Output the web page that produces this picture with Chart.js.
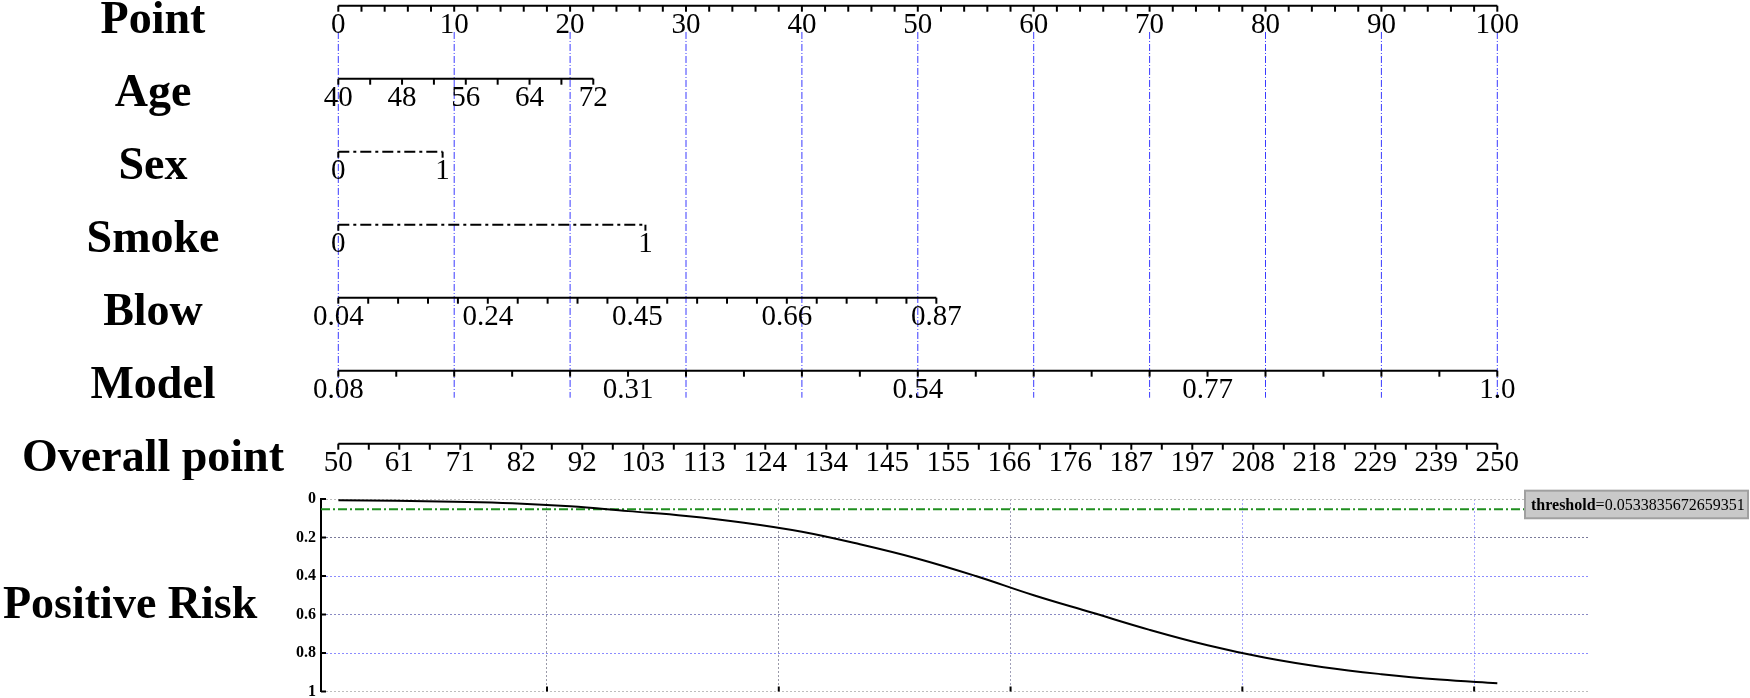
<!DOCTYPE html>
<html>
<head>
<meta charset="utf-8">
<script src="https://cdn.jsdelivr.net/npm/chart.js@4.4.1/dist/chart.umd.min.js"></script>
<style>
body { margin: 0; background: #fff; }
#wrap { position: relative; width: 1750px; height: 698px; }
#nomo { position: absolute; left: 0; top: 0; }
#risk { position: absolute; left: 0; top: 480px; }
</style>
</head>
<body>
<div id="wrap">
<canvas id="nomo" width="1750" height="480"></canvas>
<canvas id="risk" width="1750" height="218"></canvas>
</div>
<script>
// rows of the nomogram, top to bottom
var rowNames = ["Point", "Age", "Sex", "Smoke", "Blow", "Model", "Overall point"];

// where each variable scale starts / ends, in points
var pointSpan = [0, 100];
var ageSpan = [0, 22];
var sexSpan = [0, 9];
var smokeSpan = [0, 26.5];
var blowSpan = [0, 51.6];
var modelSpan = [0, 100];
var overallSpan = [0, 100];

// tick labels
var pointLabels = ["0", "10", "20", "30", "40", "50", "60", "70", "80", "90", "100"];
var ageLabels = ["40", "48", "56", "64", "72"];
var sexLabels = ["0", "1"];
var smokeLabels = ["0", "1"];
var blowLabels = ["0.04", "0.24", "0.45", "0.66", "0.87"];
var modelLabels = ["0.08", "0.31", "0.54", "0.77", "1.0"];
var overallLabels = ["50", "61", "71", "82", "92", "103", "113", "124", "134", "145",
    "155", "166", "176", "187", "197", "208", "218", "229", "239", "250"];

// tick intervals between two labels
var pointSub = 5, ageSub = 2, sexSub = 1, smokeSub = 1, blowSub = 5, modelSub = 5, overallSub = 2;

// blue guide lines (point values)
var guideValues = [0, 10, 20, 30, 40, 50, 60, 70, 80, 90, 100];

// risk curve: overall point -> positive risk
var riskPoints = [50, 60, 70, 80, 90, 100, 110, 120, 130, 140, 150, 160, 170, 180, 190, 200, 210, 220, 230, 240, 250];
var riskValues = [0.006, 0.009, 0.014, 0.022, 0.038, 0.063, 0.088, 0.123, 0.17, 0.235, 0.31, 0.40, 0.50, 0.59, 0.68, 0.76, 0.825, 0.874, 0.91, 0.938, 0.957];
var riskGrid = [86, 126, 166, 206, 246];
var riskTicks = [0, 0.2, 0.4, 0.6, 0.8, 1];
var riskTickLabels = ["0", "0.2", "0.4", "0.6", "0.8", "1"];
var threshold = 0.0533835672659351;
var riskMin = 47.0, riskMax = 265.65;

var rows = [
    { span: pointSpan, labels: pointLabels, sub: pointSub, dashed: false },
    { span: ageSpan, labels: ageLabels, sub: ageSub, dashed: false },
    { span: sexSpan, labels: sexLabels, sub: sexSub, dashed: true },
    { span: smokeSpan, labels: smokeLabels, sub: smokeSub, dashed: true },
    { span: blowSpan, labels: blowLabels, sub: blowSub, dashed: false },
    { span: modelSpan, labels: modelLabels, sub: modelSub, dashed: false },
    { span: overallSpan, labels: overallLabels, sub: overallSub, dashed: false }
];

var SERIF = "'Liberation Serif', 'Times New Roman', serif";

var datasets = [];
rows.forEach(function (r, i) {
    datasets.push({
        data: [{ x: r.span[0], y: i }, { x: r.span[1], y: i }],
        borderColor: "#000",
        borderWidth: 2,
        borderDash: r.dashed ? [11, 4, 3, 4] : [],
        pointRadius: 0,
        clip: false,
        order: 1
    });
});
guideValues.forEach(function (v) {
    datasets.push({
        data: [{ x: v, y: 0.36 }, { x: v, y: 5.37 }],
        borderColor: "#3a3aff",
        borderWidth: 1,
        borderDash: [7, 2, 1, 2],
        pointRadius: 0,
        clip: false,
        order: 2
    });
});

// ticks, tick labels and row names
var nomoDecor = {
    id: "nomoDecor",
    afterDatasetsDraw: function (chart) {
        var ctx = chart.ctx, xs = chart.scales.x, ys = chart.scales.y;
        ctx.save();
        rows.forEach(function (r, i) {
            var y = ys.getPixelForValue(i);
            var n = (r.labels.length - 1) * r.sub;
            ctx.strokeStyle = "#000";
            ctx.lineWidth = 2;
            for (var k = 0; k <= n; k++) {
                var v = r.span[0] + (r.span[1] - r.span[0]) * k / n;
                var x = xs.getPixelForValue(v);
                ctx.beginPath();
                ctx.moveTo(x, y);
                ctx.lineTo(x, y + 6);
                ctx.stroke();
                if (k % r.sub === 0) {
                    ctx.fillStyle = "#000";
                    ctx.font = "29px " + SERIF;
                    ctx.textAlign = "center";
                    ctx.textBaseline = "alphabetic";
                    ctx.fillText(r.labels[k / r.sub], x, y + 27.5);
                }
            }
            ctx.fillStyle = "#000";
            ctx.font = "bold 46px " + SERIF;
            ctx.textAlign = "center";
            ctx.fillText(rowNames[i], 153, y + 27.5);
        });
        ctx.restore();
    }
};

new Chart("nomo", {
    type: "line",
    data: { datasets: datasets },
    options: {
        responsive: false,
        animation: false,
        events: [],
        layout: { padding: { left: 338.3, right: 252.7, top: 5.7, bottom: 36.3 } },
        plugins: { legend: { display: false }, tooltip: { enabled: false } },
        scales: {
            x: { type: "linear", min: 0, max: 100, display: false },
            y: { type: "linear", min: 0, max: 6, reverse: true, display: false }
        }
    },
    plugins: [nomoDecor]
});

var yGridColors = ["#bdbdbd", "#7a7a9a", "#8c8cff", "#8a8ac4", "#8c8cff", "#bdbdbd"];
var xGridColors = ["#9a9aa8", "#9a9aa8", "#a0a0b8", "#a8a8ff", "#a8a8ff"];

var riskDecor = {
    id: "riskDecor",
    afterDraw: function (chart) {
        var ctx = chart.ctx, xs = chart.scales.x, ys = chart.scales.y, a = chart.chartArea;
        ctx.save();
        ctx.strokeStyle = "#000";
        ctx.lineWidth = 2;
        riskGrid.forEach(function (v) {
            var x = xs.getPixelForValue(v);
            ctx.beginPath();
            ctx.moveTo(x, a.bottom);
            ctx.lineTo(x, a.bottom - 5);
            ctx.stroke();
        });
        riskTicks.forEach(function (v) {
            var y = ys.getPixelForValue(v);
            ctx.beginPath();
            ctx.moveTo(a.left, y);
            ctx.lineTo(a.left + 5, y);
            ctx.stroke();
        });

        // threshold label box
        var ty = ys.getPixelForValue(threshold);
        var bx = a.right - 63, by = ty - 18.6;
        ctx.fillStyle = "#c9c9c9";
        ctx.fillRect(bx, by, 223, 27.6);
        ctx.strokeStyle = "#a0a0a0";
        ctx.lineWidth = 2;
        ctx.strokeRect(bx, by, 223, 27.6);
        ctx.fillStyle = "#000";
        ctx.textAlign = "left";
        ctx.textBaseline = "alphabetic";
        ctx.font = "bold 16px " + SERIF;
        var t1 = "threshold";
        ctx.fillText(t1, bx + 6, by + 19);
        var w1 = ctx.measureText(t1).width;
        ctx.font = "16px " + SERIF;
        ctx.fillText("=" + threshold, bx + 6 + w1, by + 19);

        ctx.font = "bold 46px " + SERIF;
        ctx.fillText("Positive Risk", 3, ys.getPixelForValue(0.5) + 23);
        ctx.restore();
    }
};

new Chart("risk", {
    type: "line",
    data: {
        datasets: [{
            data: riskPoints.map(function (x, i) { return { x: x, y: riskValues[i] }; }),
            borderColor: "#000",
            borderWidth: 2,
            pointRadius: 0,
            tension: 0.4,
            clip: false
        }, {
            data: [{ x: riskMin, y: threshold }, { x: riskMax, y: threshold }],
            borderColor: "#1f8f1f",
            borderWidth: 2,
            borderDash: [9, 3, 2, 3],
            pointRadius: 0
        }]
    },
    options: {
        responsive: false,
        animation: false,
        events: [],
        layout: { padding: { left: 0, right: 162, top: 19, bottom: 6.5 } },
        plugins: { legend: { display: false }, tooltip: { enabled: false } },
        scales: {
            x: {
                type: "linear", min: riskMin, max: riskMax,
                afterBuildTicks: function (s) { s.ticks = riskGrid.map(function (v) { return { value: v }; }); },
                afterFit: function (s) { s.height = 0; s.paddingLeft = 0; s.paddingRight = 0; },
                ticks: { display: false },
                grid: { color: function (c) { return xGridColors[c.index]; }, lineWidth: 1, drawTicks: false },
                border: { display: false, dash: [2, 2] }
            },
            y: {
                type: "linear", min: 0, max: 1, reverse: true,
                afterBuildTicks: function (s) { s.ticks = riskTicks.map(function (v) { return { value: v }; }); },
                afterFit: function (s) { s.width = 321; s.paddingTop = 0; s.paddingBottom = 0; },
                ticks: {
                    color: "#000", padding: 5,
                    font: { family: SERIF, weight: "bold", size: 16 },
                    callback: function (v, i) { return riskTickLabels[i]; }
                },
                grid: { color: function (c) { return yGridColors[c.index]; }, lineWidth: 1, drawTicks: false },
                border: { display: true, color: "#000", width: 2, dash: [2, 2] }
            }
        }
    },
    plugins: [riskDecor]
});
</script>
</body>
</html>
